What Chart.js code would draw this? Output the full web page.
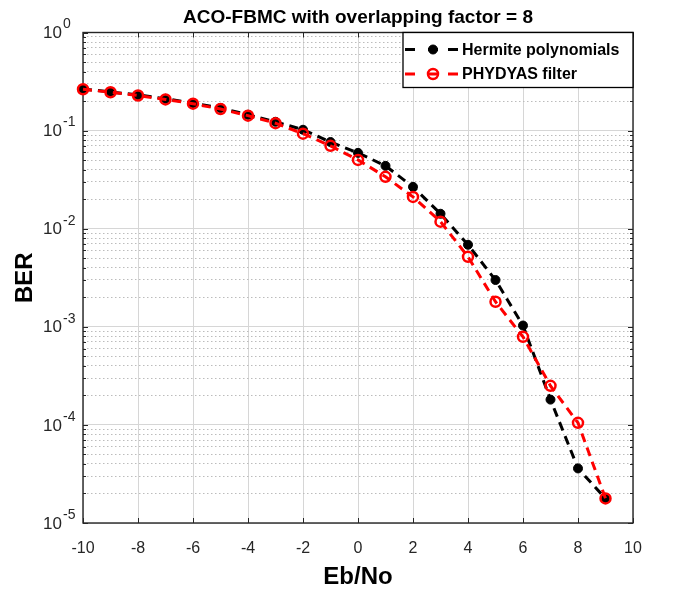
<!DOCTYPE html>
<html><head><meta charset="utf-8">
<script src="https://cdn.jsdelivr.net/npm/chart.js@4.4.1/dist/chart.umd.min.js"></script>
<style>html,body{margin:0;padding:0;background:#fff;}canvas{display:block;}</style>
</head><body>
<canvas id="c" width="673" height="592"></canvas>
<script>
// ---- data ----
const ebNo = [-10,-9,-8,-7,-6,-5,-4,-3,-2,-1,0,1,2,3,4,5,6,7,8,9];
const berHermite = [0.266,0.248,0.231,0.211,0.191,0.170,0.145,0.123,0.102,0.0765,0.0593,0.0437,0.0267,0.0142,0.00686,0.0030,0.00103,0.000181,0.000036,0.0000178];
const berPhydyas = [0.264,0.246,0.228,0.208,0.188,0.166,0.142,0.119,0.093,0.0699,0.0503,0.0338,0.0211,0.0118,0.00517,0.0018,0.00079,0.00025,0.000105,0.0000178];
const seriesNames = ['Hermite polynomials','PHYDYAS filter'];
const xTicks = [-10,-8,-6,-4,-2,0,2,4,6,8,10];
const yMajorTicks = [1,1e-1,1e-2,1e-3,1e-4,1e-5];
const yMinorMult = [2,3,4,5,6,7,8,9];
const titleText = 'ACO-FBMC with overlapping factor = 8';
const xLabel = 'Eb/No';
const yLabel = 'BER';

const FONT = "'Liberation Sans', Arial, Helvetica, sans-serif";
const TXT = '#262626';

const yAllTicks = [];
yMajorTicks.forEach(d => { yAllTicks.push(d); if (d < 1) yMinorMult.forEach(m => yAllTicks.push(d*m)); });
const isMajor = v => yMajorTicks.some(d => Math.abs(v - d) / d < 1e-6);

const framePlugin = {
  id: 'frame',
  beforeDatasetsDraw(chart) {
    const {ctx, chartArea: a, scales} = chart;
    ctx.save();
    ctx.strokeStyle = TXT; ctx.lineWidth = 1;
    // inner ticks
    ctx.beginPath();
    xTicks.forEach(v => {
      const px = Math.round(scales.x.getPixelForValue(v)) + 0.5;
      ctx.moveTo(px, a.bottom); ctx.lineTo(px, a.bottom - 5);
      ctx.moveTo(px, a.top); ctx.lineTo(px, a.top + 5);
    });
    yAllTicks.forEach(v => {
      const py = Math.round(scales.y.getPixelForValue(v)) + 0.5;
      const L = isMajor(v) ? 5 : 3;
      ctx.moveTo(a.left, py); ctx.lineTo(a.left + L, py);
      ctx.moveTo(a.right, py); ctx.lineTo(a.right - L, py);
    });
    ctx.stroke();
    ctx.lineWidth = 1.4;
    ctx.strokeRect(a.left, a.top, a.right - a.left, a.bottom - a.top);
    // y tick labels with superscript exponents
    ctx.fillStyle = TXT;
    ctx.textBaseline = 'middle';
    yMajorTicks.forEach(v => {
      const py = scales.y.getPixelForValue(v);
      const e = Math.round(Math.log10(v));
      ctx.font = '17px ' + FONT;
      ctx.textAlign = 'right';
      ctx.fillText('10', a.left - 21, py + 1);
      ctx.font = '14px ' + FONT;
      ctx.textAlign = 'left';
      ctx.fillText(String(e), a.left - 20, py - 8);
    });
    ctx.restore();
  },
  afterDatasetsDraw(chart) {
    const {ctx, chartArea: a} = chart;
    const bx = a.right - 230, by = a.top, bw = 230, bh = 55;
    ctx.save();
    ctx.fillStyle = '#fff';
    ctx.fillRect(bx, by, bw, bh);
    ctx.strokeStyle = '#000'; ctx.lineWidth = 1.3;
    ctx.strokeRect(bx, by, bw, bh);
    const rows = [by + 17, by + 41.5];
    chart.data.datasets.forEach((ds, i) => {
      const y = rows[i];
      ctx.strokeStyle = ds.borderColor; ctx.lineWidth = ds.borderWidth;
      ctx.setLineDash([]);
      ctx.beginPath();
      [[2,12],[25,35],[45,55]].forEach(([s,e]) => { ctx.moveTo(bx + s, y); ctx.lineTo(bx + e, y); });
      ctx.stroke();
      const cx = bx + 30;
      ctx.beginPath();
      ctx.arc(cx, y, ds.pointRadius, 0, Math.PI * 2);
      if (ds.pointBackgroundColor !== 'rgba(0,0,0,0)') { ctx.fillStyle = ds.pointBackgroundColor; ctx.fill(); }
      ctx.lineWidth = ds.pointBorderWidth; ctx.strokeStyle = ds.pointBorderColor; ctx.stroke();
      ctx.fillStyle = '#000';
      ctx.font = 'bold 16px ' + FONT;
      ctx.textAlign = 'left'; ctx.textBaseline = 'middle';
      ctx.fillText(ds.label, bx + 59, y + 1);
    });
    ctx.restore();
  }
};

new Chart(document.getElementById('c'), {
  type: 'line',
  data: {
    datasets: [
      {
        label: seriesNames[0],
        data: ebNo.map((x, i) => ({x, y: berHermite[i]})),
        borderColor: '#000000', borderWidth: 3, borderDash: [9, 6],
        pointRadius: 4.5, pointBackgroundColor: '#000000', pointBorderColor: '#000000', pointBorderWidth: 1,
        tension: 0, clip: false, order: 1
      },
      {
        label: seriesNames[1],
        data: ebNo.map((x, i) => ({x, y: berPhydyas[i]})),
        borderColor: '#ff0000', borderWidth: 3, borderDash: [9, 6],
        pointRadius: 5, pointBackgroundColor: 'rgba(0,0,0,0)', pointBorderColor: '#ff0000', pointBorderWidth: 2.5,
        tension: 0, clip: false, order: 0
      }
    ]
  },
  options: {
    responsive: false, animation: false, events: [],
    layout: {padding: {left: 0, right: 40, top: 0, bottom: 0}},
    plugins: {
      legend: {display: false},
      tooltip: {enabled: false},
      title: {
        display: true, text: titleText, fullSize: false, color: '#000',
        font: {family: FONT, size: 19, weight: 'bold'},
        padding: {top: 6.5, bottom: 3.2}
      }
    },
    scales: {
      x: {
        type: 'linear', min: -10, max: 10,
        afterBuildTicks: s => { s.ticks = xTicks.map(v => ({value: v})); },
        ticks: {color: TXT, font: {family: FONT, size: 16}, padding: 16, maxRotation: 0},
        grid: {color: '#d6d6d6', lineWidth: 1, drawTicks: false},
        border: {display: false},
        title: {display: true, text: xLabel, color: '#000', font: {family: FONT, size: 24, weight: 'bold'}, padding: {top: 0, bottom: 0}},
        afterFit: s => { s.height = 69; }
      },
      y: {
        type: 'logarithmic', min: 1e-5, max: 1,
        afterBuildTicks: s => { s.ticks = yAllTicks.map(v => ({value: v})); },
        ticks: {display: false},
        grid: {
          color: c => isMajor(c.tick.value) ? '#d6d6d6' : '#bcbcbc',
          lineWidth: 1, drawTicks: false
        },
        border: {display: false, dash: c => (c.tick && isMajor(c.tick.value)) ? [] : [1.5, 2.5]},
        title: {display: true, text: yLabel, color: '#000', font: {family: FONT, size: 24, weight: 'bold'}, padding: {top: 11, bottom: 0}},
        afterFit: s => { s.width = 83; }
      }
    }
  },
  plugins: [framePlugin]
});
</script>
</body></html>
